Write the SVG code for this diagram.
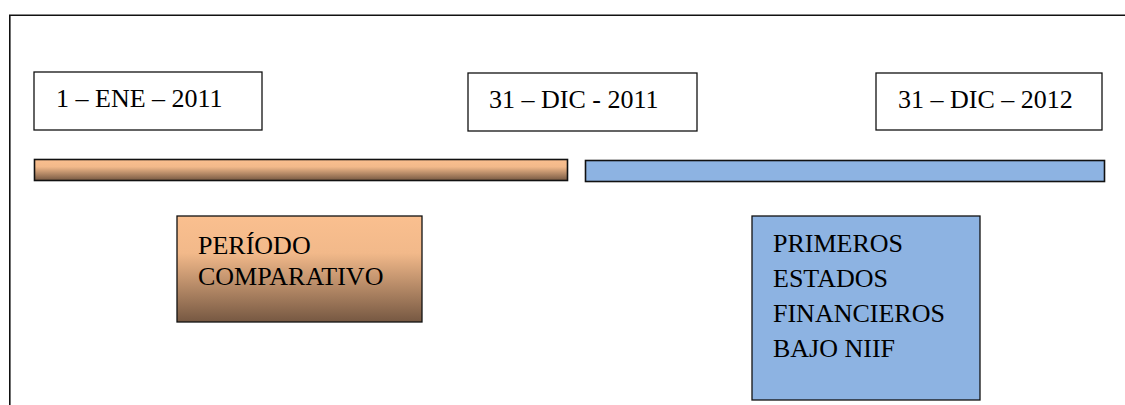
<svg xmlns="http://www.w3.org/2000/svg" width="1125" height="405" viewBox="0 0 1125 405">
  <style>
    .frame { fill: none; stroke: #111; stroke-width: 1.6; }
    .date { fill: #fff; stroke: #111; stroke-width: 1.3; }
    .bar { stroke: #111; stroke-width: 1.6; }
    .note { stroke: #111; stroke-width: 1.3; }
    text { font-family: "Liberation Serif", "Times New Roman", serif; font-size: 26px; fill: #000; }
  </style>
  <defs>
    <linearGradient id="copper" x1="0" y1="0" x2="0" y2="1">
      <stop offset="0" stop-color="#FABF8F"/>
      <stop offset="0.35" stop-color="#F2B98A"/>
      <stop offset="1" stop-color="#765842"/>
    </linearGradient>
  </defs>

  <rect width="1125" height="405" fill="#fff"/>

  <!-- page frame, open to the right and bottom -->
  <path class="frame" d="M9.8,405 V15.2 H1125"/>

  <g id="date-start">
    <rect class="date" x="34" y="72" width="228" height="58"/>
    <text x="56" y="107">1 – ENE – 2011</text>
  </g>

  <g id="date-transition">
    <rect class="date" x="468" y="73" width="229" height="58"/>
    <text x="489" y="108">31 – DIC - 2011</text>
  </g>

  <g id="date-report">
    <rect class="date" x="876" y="73" width="226" height="57"/>
    <text x="898" y="108">31 – DIC – 2012</text>
  </g>

  <g id="bar-comparative">
    <rect class="bar" x="34.5" y="159.5" width="533" height="21" fill="url(#copper)"/>
  </g>

  <g id="bar-first-ifrs">
    <rect class="bar" x="585.5" y="160.5" width="519" height="21" fill="#8DB3E2"/>
  </g>

  <g id="period-comparative">
    <rect class="note" x="177" y="216" width="245" height="106" fill="url(#copper)"/>
    <text x="198" y="254">PERÍODO</text>
    <text x="198" y="285">COMPARATIVO</text>
  </g>

  <g id="first-statements">
    <rect class="note" x="752" y="216" width="228" height="184" fill="#8DB3E2"/>
    <text x="773" y="252">PRIMEROS</text>
    <text x="773" y="287">ESTADOS</text>
    <text x="773" y="322">FINANCIEROS</text>
    <text x="773" y="357">BAJO NIIF</text>
  </g>

  <g id="connectors"/>
</svg>
